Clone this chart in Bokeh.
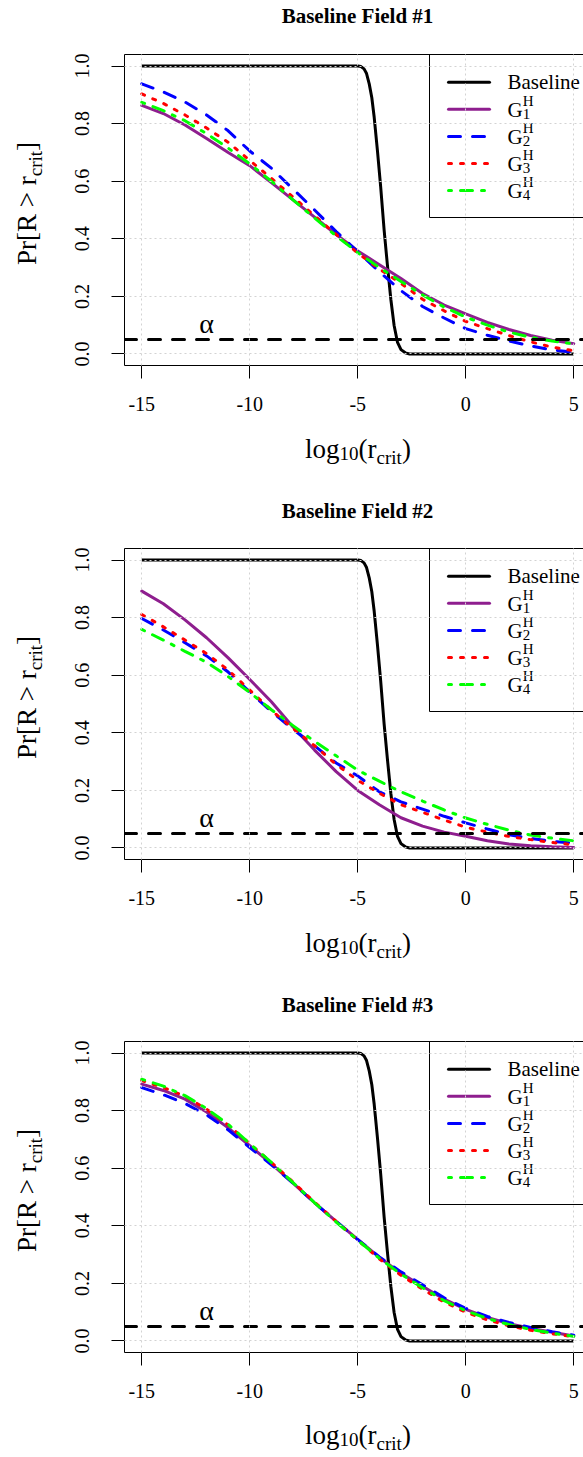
import math
from bokeh.plotting import figure
from bokeh.models import Range1d, FixedTicker, Label, Span, LinearAxis
from bokeh.layouts import column, row
from bokeh.embed import file_html
from bokeh.resources import INLINE

# ---------------- data ----------------
X = [-15, -14, -13, -12, -11, -10, -9, -8, -7, -6, -5, -4, -3, -2, -1, 0, 1, 2, 3, 4, 5]

BASE_X = [-15, -5.0, -4.85, -4.71, -4.6, -4.47, -4.35, -4.24, -4.09, -3.94, -3.78,
          -3.63, -3.47, -3.32, -3.16, -3.0, -2.8, -2.6, 5]
BASE_Y = [1.0, 1.0, 0.998, 0.99, 0.975, 0.938, 0.89, 0.822, 0.706, 0.58, 0.43,
          0.31, 0.19, 0.10, 0.04, 0.015, 0.004, 0.0, 0.0]

F1_G1 = [.863, .835, .795, .748, .700, .654, .595, .535, .475, .415, .358, .310, .262, .210, .170, .139, .110, .085, .064, .048, .036]
F1_G2 = [.938, .910, .875, .830, .775, .705, .645, .573, .500, .425, .355, .285, .220, .165, .125, .088, .065, .045, .028, .014, .006]
F1_G3 = [.903, .870, .830, .785, .735, .672, .610, .545, .480, .415, .350, .295, .245, .190, .150, .113, .088, .064, .042, .024, .011]
F1_G4 = [.874, .845, .810, .765, .715, .660, .600, .535, .472, .410, .352, .300, .252, .205, .163, .128, .100, .076, .058, .045, .035]

F2_G1 = [.892, .848, .792, .730, .660, .585, .508, .420, .340, .265, .200, .150, .105, .076, .055, .041, .025, .014, .008, .004, .002]
F2_G2 = [.797, .757, .713, .667, .611, .542, .474, .412, .355, .295, .250, .195, .160, .135, .110, .087, .066, .046, .033, .023, .017]
F2_G3 = [.811, .768, .722, .675, .618, .548, .478, .415, .355, .290, .235, .190, .150, .124, .097, .072, .055, .040, .029, .019, .011]
F2_G4 = [.759, .722, .683, .645, .595, .540, .480, .425, .370, .320, .270, .232, .195, .163, .132, .104, .082, .062, .045, .034, .025]

F3_G1 = [.892, .870, .840, .795, .740, .678, .615, .548, .480, .415, .353, .290, .235, .190, .145, .110, .082, .060, .044, .030, .017]
F3_G2 = [.880, .855, .825, .785, .733, .672, .612, .548, .480, .415, .352, .292, .240, .195, .150, .113, .085, .064, .047, .032, .020]
F3_G3 = [.904, .880, .850, .805, .750, .685, .620, .552, .482, .415, .350, .285, .228, .180, .135, .100, .073, .053, .037, .025, .015]
F3_G4 = [.909, .885, .852, .807, .752, .685, .620, .550, .480, .413, .350, .287, .232, .185, .140, .105, .078, .057, .040, .027, .016]

TITLES = ["Baseline Field #1", "Baseline Field #2", "Baseline Field #3"]
FIELDS = [[F1_G1, F1_G2, F1_G3, F1_G4], [F2_G1, F2_G2, F2_G3, F2_G4], [F3_G1, F3_G2, F3_G3, F3_G4]]
LEGEND_MAIN = ["Baseline", "G", "G", "G", "G"]
LEGEND_SUB = ["", "1", "2", "3", "4"]
LEGEND_SUP = ["", "H", "H", "H", "H"]
X_TICKS = [-15, -10, -5, 0, 5]
X_TICK_LABELS = ["-15", "-10", "-5", "0", "5"]
Y_TICKS = [0.0, 0.2, 0.4, 0.6, 0.8, 1.0]
Y_TICK_LABELS = ["0.0", "0.2", "0.4", "0.6", "0.8", "1.0"]
ALPHA = 0.05

# ---------------- styles / layout ----------------
FONT = "Liberation Serif"
ASC = 0.891  # font ascent (em) of Liberation Serif
COLORS = ["black", "#8E1E8E", "blue", "red", "#00FF00"]
DASHES = ["solid", "solid", "12 12", "3 9", "3 9 12 9"]
LW = 3
FULL_W = 583
STRIP_W = 60
MAIN_W = FULL_W - STRIP_W
MAIN_H = 379
BORDER_L, BORDER_T, BORDER_B = 64, 8, 60
FRAME_H = MAIN_H - BORDER_T - BORDER_B
PX_PER_X = 21.6
XR = (-15.8, -15.8 + (MAIN_W - BORDER_L) / PX_PER_X)
YR = (-0.04, 1.04)
PX_PER_Y = FRAME_H / (YR[1] - YR[0])
YLAB_CENTER = 162  # screen px of the y-label centre above the strip's frame bottom

# Times / Liberation Serif advance widths (per 1000 em)
W = {' ': 250, '(': 333, ')': 333, '[': 333, ']': 333, '>': 564, '-': 333,
     'P': 556, 'R': 667, 'G': 722, 'H': 722, 'B': 667, 'a': 444, 'c': 444, 'e': 444,
     'g': 500, 'i': 278, 'l': 278, 'n': 500, 'o': 500, 'r': 333, 's': 389, 't': 278}
for d in "0123456789":
    W[d] = 500


def tw(s, size):
    return sum(W.get(c, 500) for c in s) / 1000.0 * size


def lab(p, x, y_base, text, size, yscale=1.0, align="left", bold=False):
    """Horizontal text whose baseline sits at y_base (data units)."""
    p.add_layout(Label(x=x, y=y_base + ASC * size / yscale, text=text,
                       text_font=FONT, text_font_size=f"{size}px",
                       text_font_style="bold" if bold else "normal",
                       text_align=align, text_baseline="top", text_color="black"))


def lab_up(p, x_base, y_start, text, size):
    """Text rotated 90 deg (reading upwards); positions in screen pixels."""
    p.add_layout(Label(x=x_base - ASC * size, y=y_start, text=text, angle=math.pi / 2,
                       x_units="screen", y_units="screen",
                       text_font=FONT, text_font_size=f"{size}px",
                       text_align="left", text_baseline="top", text_color="black"))


def strip(width, height):
    s = figure(width=width, height=height, x_range=Range1d(0, width), y_range=Range1d(0, height),
               output_backend="svg", toolbar_location=None, x_axis_location=None,
               y_axis_location=None, min_border=0)
    s.min_border_left = s.min_border_right = s.min_border_top = s.min_border_bottom = 0
    s.outline_line_color = None
    s.background_fill_color = "white"
    s.border_fill_color = "white"
    s.xgrid.visible = False
    s.ygrid.visible = False
    return s


def title_strip(title, height, baseline_from_top):
    s = strip(FULL_W, height)
    lab(s, 357, height - baseline_from_top, title, 21, align="center", bold=True)
    return s


def xlabel_strip(height, baseline_from_top):
    s = strip(FULL_W, height)
    parts = [("log", 27, 0), ("10", 19, 5), ("(r", 27, 0), ("crit", 19, 5), (")", 27, 0)]
    total = sum(tw(t, sz) for t, sz, _ in parts)
    x = 357.5 - total / 2
    base = height - baseline_from_top
    for t, sz, sh in parts:
        lab(s, x, base - sh, t, sz)
        x += tw(t, sz)
    return s


def ylabel_strip():
    s = strip(STRIP_W, MAIN_H)
    # (text, size, baseline shift, advance) -- spaces are advances only
    parts = [("Pr[R", 27, 0, "Pr[R "), (">", 27, 0, "> "), ("r", 27, 0, "r"),
             ("crit", 19, 5, "crit"), ("]", 27, 0, "]")]
    total = sum(tw(adv, sz) for _, sz, _, adv in parts)
    y = YLAB_CENTER - total / 2
    for t, sz, sh, adv in parts:
        lab_up(s, 36 + sh, y, t, sz)
        y += tw(adv, sz)
    return s


def main_panel(curves):
    p = figure(width=MAIN_W, height=MAIN_H, x_range=Range1d(*XR), y_range=Range1d(*YR),
               output_backend="svg", toolbar_location=None,
               min_border_left=BORDER_L, min_border_right=0, min_border_top=BORDER_T,
               min_border_bottom=BORDER_B)
    p.outline_line_color = None
    p.background_fill_color = "white"
    p.border_fill_color = "white"

    xa = p.xaxis[0]
    xa.ticker = FixedTicker(ticks=X_TICKS)
    xa.major_label_overrides = {t: l for t, l in zip(X_TICKS, X_TICK_LABELS)}
    ya = p.yaxis[0]
    ya.ticker = FixedTicker(ticks=Y_TICKS)
    ya.major_label_overrides = {t: l for t, l in zip(Y_TICKS, Y_TICK_LABELS)}
    ya.major_label_orientation = "vertical"
    for ax in (xa, ya):
        ax.axis_line_color = "black"
        ax.axis_line_width = 1
        ax.major_tick_line_color = "black"
        ax.major_tick_line_width = 1
        ax.major_tick_out = 13
        ax.major_tick_in = 0
        ax.minor_tick_out = 0
        ax.minor_tick_in = 0
        ax.major_label_text_font = FONT
        ax.major_label_text_font_size = "20px"
        ax.major_label_text_color = "black"
    xa.major_label_standoff = 18
    ya.major_label_standoff = 22
    top = LinearAxis(ticker=FixedTicker(ticks=[]), major_tick_out=0, major_tick_in=0,
                     minor_tick_out=0, minor_tick_in=0, major_label_text_font_size="0px",
                     major_label_standoff=0, axis_line_color="black", axis_line_width=1)
    p.add_layout(top, "above")

    p.xgrid.ticker = FixedTicker(ticks=X_TICKS)
    p.ygrid.ticker = FixedTicker(ticks=Y_TICKS)
    p.grid.grid_line_color = "#D3D3D3"
    p.grid.grid_line_dash = "2 3"
    p.grid.grid_line_width = 1
    p.grid.level = "overlay"

    p.line(BASE_X, BASE_Y, line_color=COLORS[0], line_width=LW)
    for k, ys in enumerate(curves):
        p.line(X, ys, line_color=COLORS[k + 1], line_width=LW,
               line_dash=DASHES[k + 1], line_cap="round")

    p.add_layout(Span(location=ALPHA, dimension="width", line_color="black",
                      line_width=3, line_dash="12 12", line_cap="round"))
    lab(p, -12, ALPHA + 7 / PX_PER_Y, "\u03b1", 28, yscale=PX_PER_Y, align="center")

    # legend, top right, cropped at the right edge
    leg_left = XR[0] + (429 - 124) / PX_PER_X
    leg_bottom = YR[1] - (217 - 54) / PX_PER_Y
    p.quad(left=[leg_left], right=[50], bottom=[leg_bottom], top=[5],
           fill_color="white", line_color="black", line_width=1)
    row0 = YR[1] - (81.7 - 54) / PX_PER_Y
    step = 27.1 / PX_PER_Y
    seg_x = [XR[0] + (448 - 124) / PX_PER_X, XR[0] + (489 - 124) / PX_PER_X]
    text_x = XR[0] + (507 - 124) / PX_PER_X
    for i in range(5):
        ry = row0 - i * step
        p.line(seg_x, [ry, ry], line_color=COLORS[i], line_width=LW,
               line_dash=DASHES[i], line_cap="round")
        base = ry - 7 / PX_PER_Y
        lab(p, text_x, base, LEGEND_MAIN[i], 21, yscale=PX_PER_Y)
        if LEGEND_SUP[i]:
            gx = text_x + tw(LEGEND_MAIN[i], 21) / PX_PER_X
            lab(p, gx, base + 10 / PX_PER_Y, LEGEND_SUP[i], 15, yscale=PX_PER_Y)
            lab(p, gx, base - 6 / PX_PER_Y, LEGEND_SUB[i], 15, yscale=PX_PER_Y)
    return p


# per panel: title strip height, title baseline, x-label strip height, x-label baseline
TITLE_H = [46, 47, 46]
TITLE_BASE = [22, 24, 24]
XLAB_H = [68, 68, 45]
XLAB_BASE = [33, 33, 32]

blocks = []
for i in range(3):
    blocks.append(title_strip(TITLES[i], TITLE_H[i], TITLE_BASE[i]))
    blocks.append(row(ylabel_strip(), main_panel(FIELDS[i]), spacing=0))
    blocks.append(xlabel_strip(XLAB_H[i], XLAB_BASE[i]))

layout = column(*blocks, spacing=0)
open("out.html", "w").write(file_html(layout, INLINE))
